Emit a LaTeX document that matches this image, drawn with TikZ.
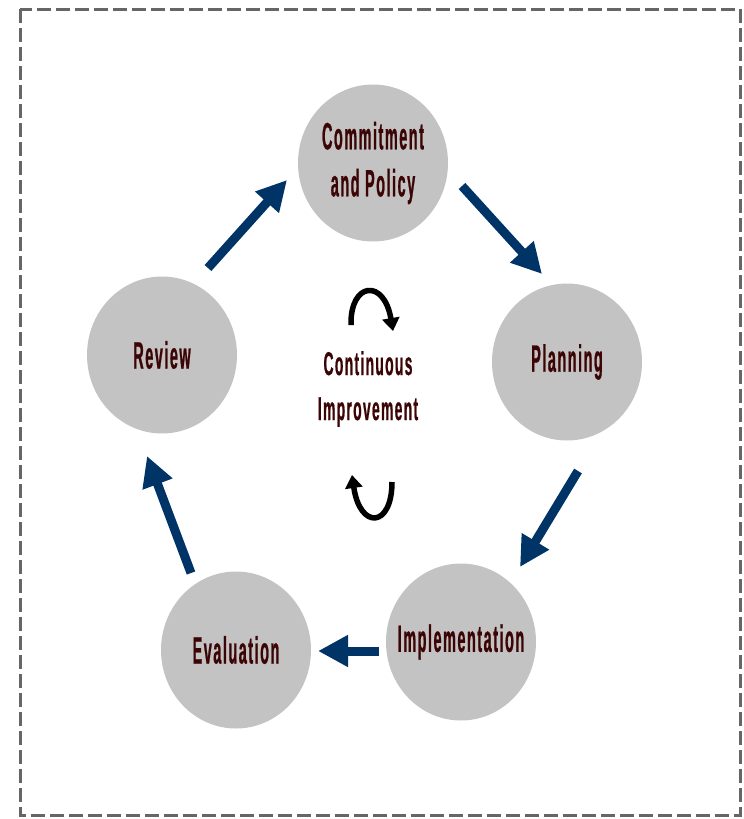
\documentclass[tikz,border=0pt]{standalone}
\usepackage{fontspec}
\newfontfamily\cf[FakeStretch=0.38,FakeBold=0.6,LetterSpace=4]{Liberation Sans}
\newfontfamily\cfc[FakeStretch=0.42,FakeBold=0.6,LetterSpace=4]{Liberation Sans}
\usetikzlibrary{arrows.meta,shapes.geometric}
\definecolor{circ}{HTML}{C3C3C3}
\definecolor{txt}{HTML}{3C0505}
\definecolor{arr}{HTML}{003366}
\begin{document}
\begin{tikzpicture}[x=1pt,y=-1pt,
  stage/.style={ellipse,fill=circ,minimum width=150pt,minimum height=157pt,inner sep=0pt},
  stagetext/.style={font=\cf\bfseries\fontsize{38}{47}\selectfont,text=txt,align=center},
  bigarrow/.style={draw=arr,line width=9pt,-{Triangle[width=30pt,length=30pt]},arr},
  loop/.style={draw=black,line width=5.5pt,-{Triangle[width=17pt,length=13pt]}}]
\useasboundingbox (0,0) rectangle (744,819);
\draw[draw=black!60,line width=3pt,dash pattern=on 14pt off 5pt] (20,9) rectangle (740,815);
\node[stage,label={[stagetext]center:Commitment\\and Policy}] (commit) at (373,163) {};
\node[stage,label={[stagetext]center:Planning}] (plan) at (567,362) {};
\node[stage,label={[stagetext]center:Review}] (review) at (162,355) {};
\node[stage,label={[stagetext]center:Implementation}] (impl) at (461,642) {};
\node[stage,label={[stagetext]center:Evaluation}] (eval) at (236,650) {};
\node[font=\cfc\bfseries\fontsize{33}{45}\selectfont,text=txt,align=center] (center) at (368,389) {Continuous\\Improvement};
\coordinate (a1s) at (462,186); \coordinate (a1e) at (542,274);
\coordinate (a2s) at (578,471); \coordinate (a2e) at (520,567);
\coordinate (a3s) at (379,651); \coordinate (a3e) at (318,651);
\coordinate (a4s) at (191,573); \coordinate (a4e) at (147,456);
\coordinate (a5s) at (208,268); \coordinate (a5e) at (287,180);
\draw[bigarrow] (a1s) -- (a1e);
\draw[bigarrow] (a2s) -- (a2e);
\draw[bigarrow] (a3s) -- (a3e);
\draw[bigarrow] (a4s) -- (a4e);
\draw[bigarrow] (a5s) -- (a5e);
\coordinate (l1s) at (351,325); \coordinate (l1e) at (393,331);
\coordinate (l2s) at (392,482); \coordinate (l2e) at (352,475);
\draw[loop] (l1s) .. controls (350,282) and (384,278) .. (l1e);
\draw[loop] (l2s) .. controls (392,528) and (360,530) .. (l2e);
\end{tikzpicture}
\end{document}
